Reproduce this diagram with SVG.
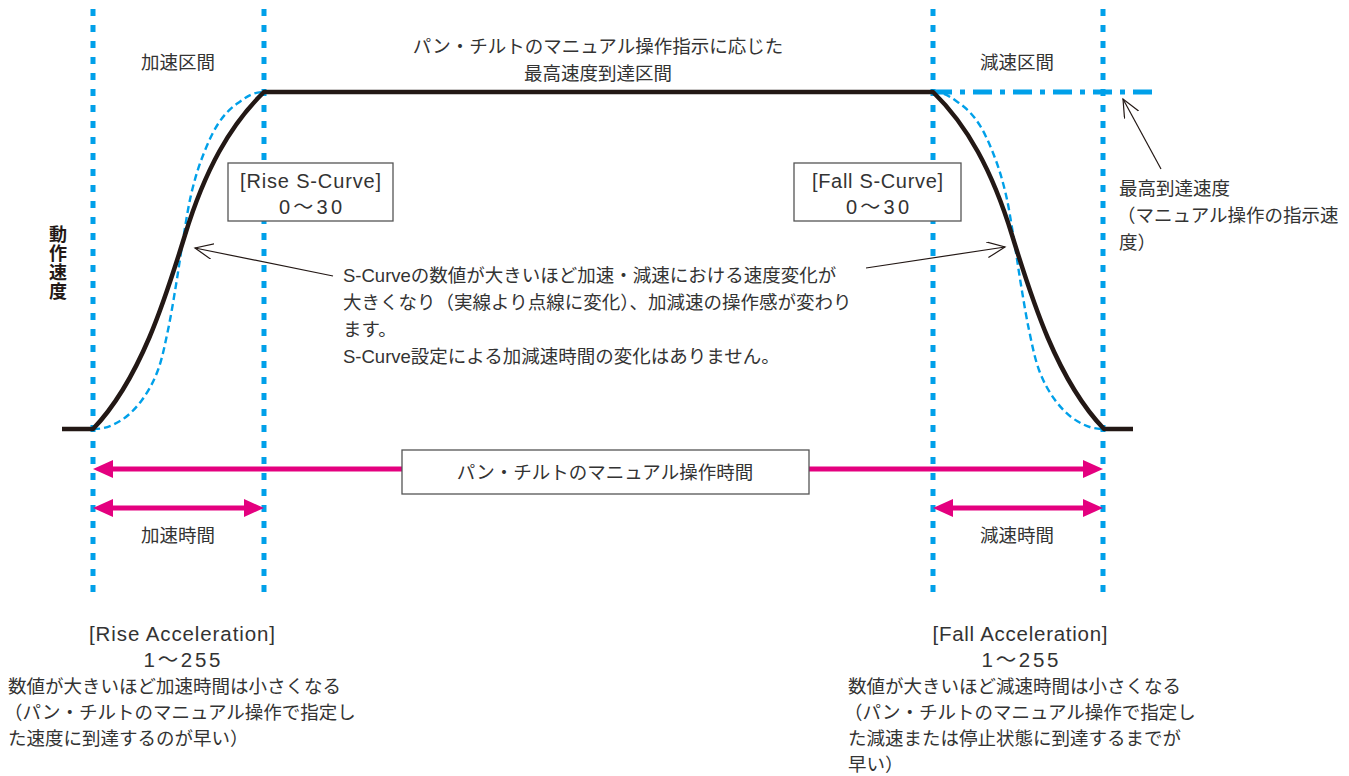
<svg xmlns="http://www.w3.org/2000/svg" width="1349" height="776" viewBox="0 0 1349 776">
<defs>
<style>
text{font-family:"Liberation Sans","Noto Sans CJK JP",sans-serif;font-size:18.5px;fill:#333}
.mid{text-anchor:middle}
.lat{font-size:20px}
.latb{font-size:20.5px}
.vdot{stroke:#00a0e9;stroke-width:5;stroke-dasharray:7 9;fill:none}
.solid{stroke:#231815;stroke-width:4.5;fill:none;stroke-linejoin:round}
.sdash{stroke:#00a0e9;stroke-width:2.4;stroke-dasharray:7 4;fill:none}
.dashdot{stroke:#00a0e9;stroke-width:5;stroke-dasharray:19 8 5 8;fill:none}
.pink{stroke:#e4007f;stroke-width:5;fill:none}
.thin{stroke:#231815;stroke-width:1.2;fill:none}
.box{fill:#fff;stroke:#555;stroke-width:1.3}
.axis{font-weight:bold;font-size:18px;fill:#231815}
</style>
<marker id="pinkHead" markerUnits="userSpaceOnUse" markerWidth="22" markerHeight="20" refX="10" refY="9" orient="auto-start-reverse" viewBox="0 0 22 20">
<path d="M0,0 L20,9 L0,18 Z" fill="#e4007f"/>
</marker>
<marker id="openHead" markerUnits="userSpaceOnUse" markerWidth="20" markerHeight="18" refX="18" refY="8" orient="auto" viewBox="0 0 20 18">
<path d="M0,0 L18,8 L0,16" fill="none" stroke="#231815" stroke-width="1.2"/>
</marker>
</defs>
<rect width="1349" height="776" fill="#fff"/>

<g id="guides">
<line class="vdot" x1="93" y1="9" x2="93" y2="593"/>
<line class="vdot" x1="264" y1="9" x2="264" y2="593"/>
<line class="vdot" x1="933" y1="9" x2="933" y2="593"/>
<line class="vdot" x1="1103" y1="9" x2="1103" y2="593"/>
</g>

<g id="max-speed-line">
<line class="dashdot" x1="933" y1="92" x2="1152" y2="92"/>
</g>

<g id="s-curve-dashed">
<path class="sdash" d="M93,429 C105,429 111.8,425.8 120,421 C128.2,416.2 135.7,408.5 142,400 C148.3,391.5 153.7,381.7 158,370 C162.3,358.3 165,344.2 168,330 C171,315.8 173.5,300 176,285 C178.5,270 180.5,255 183,240 C185.5,225 187.8,208.7 191,195 C194.2,181.3 197.5,169.8 202,158 C206.5,146.2 212,133.2 218,124 C224,114.8 230.3,108.3 238,103 C245.7,97.7 252,92 264,92"/>
<path class="sdash" d="M933,92 C945,92 951.3,97.7 959,103 C966.7,108.3 973,114.8 979,124 C985,133.2 990.5,146.2 995,158 C999.5,169.8 1002.8,181.3 1006,195 C1009.2,208.7 1011.5,225 1014,240 C1016.5,255 1018.5,270 1021,285 C1023.5,300 1026,315.8 1029,330 C1032,344.2 1034.7,358.3 1039,370 C1043.3,381.7 1048.7,391.5 1055,400 C1061.3,408.5 1068.8,416.2 1077,421 C1085.2,425.8 1092,429 1104,429"/>
</g>

<g id="speed-profile">
<path class="solid" d="M62,429 L93,429 C140,380 165,300 185,235 C205,170 230,125 264,92 L933,92 C967,125 992,170 1012,235 C1032,300 1057,380 1104,429 L1133,429"/>
</g>

<g id="connectors">
<line class="thin" x1="333" y1="276" x2="195" y2="248" marker-end="url(#openHead)"/>
<line class="thin" x1="866" y1="268" x2="1005" y2="247" marker-end="url(#openHead)"/>
<line class="thin" x1="1161" y1="169" x2="1123" y2="99" marker-end="url(#openHead)"/>
<line class="pink" x1="103" y1="469" x2="402" y2="469" marker-start="url(#pinkHead)"/>
<line class="pink" x1="809" y1="469" x2="1093" y2="469" marker-end="url(#pinkHead)"/>
<line class="pink" x1="103" y1="508" x2="254" y2="508" marker-start="url(#pinkHead)" marker-end="url(#pinkHead)"/>
<line class="pink" x1="943" y1="508" x2="1093" y2="508" marker-start="url(#pinkHead)" marker-end="url(#pinkHead)"/>
</g>

<g id="label-accel-zone">
<text class="mid" x="178" y="69">加速区間</text>
</g>
<g id="label-decel-zone">
<text class="mid" x="1017" y="69">減速区間</text>
</g>
<g id="label-top">
<text class="mid" x="598" y="53">パン・チルトのマニュアル操作指示に応じた</text>
<text class="mid" x="598" y="80">最高速度到達区間</text>
</g>
<g id="label-axis">
<text class="mid axis" x="58" y="241">動</text>
<text class="mid axis" x="58" y="260">作</text>
<text class="mid axis" x="58" y="279">速</text>
<text class="mid axis" x="58" y="298">度</text>
</g>

<g id="rise-s-curve">
<rect class="box" x="228" y="163" width="165" height="58"/>
<text class="mid lat" x="310.5" y="188" textLength="141" lengthAdjust="spacing">[Rise S-Curve]</text>
<text class="mid lat" x="310.5" y="214" textLength="63" lengthAdjust="spacing">0〜30</text>
</g>
<g id="fall-s-curve">
<rect class="box" x="794" y="163" width="167" height="58"/>
<text class="mid lat" x="877.5" y="188" textLength="131" lengthAdjust="spacing">[Fall S-Curve]</text>
<text class="mid lat" x="877.5" y="214" textLength="63" lengthAdjust="spacing">0〜30</text>
</g>

<g id="note">
<text x="343" y="282">S-Curveの数値が大きいほど加速・減速における速度変化が</text>
<text x="343" y="309">大きくなり（実線より点線に変化）、加減速の操作感が変わり</text>
<text x="343" y="336">ます。</text>
<text x="343" y="363">S-Curve設定による加減速時間の変化はありません。</text>
</g>

<g id="max-speed-label">
<text x="1119" y="195">最高到達速度</text>
<text x="1117" y="222">（マニュアル操作の指示速</text>
<text x="1119" y="249">度）</text>
</g>

<g id="manual-time">
<rect class="box" x="402" y="450" width="407" height="44"/>
<text class="mid" x="605" y="479">パン・チルトのマニュアル操作時間</text>
</g>
<g id="accel-time">
<text class="mid" x="178" y="542">加速時間</text>
</g>
<g id="decel-time">
<text class="mid" x="1017" y="542">減速時間</text>
</g>

<g id="rise-acceleration">
<text class="mid latb" x="182" y="641" textLength="186" lengthAdjust="spacing">[Rise Acceleration]</text>
<text class="mid latb" x="182" y="667" textLength="77" lengthAdjust="spacing">1〜255</text>
<text x="8" y="693">数値が大きいほど加速時間は小さくなる</text>
<text x="4" y="719">（パン・チルトのマニュアル操作で指定し</text>
<text x="8" y="745">た速度に到達するのが早い）</text>
</g>
<g id="fall-acceleration">
<text class="mid latb" x="1020" y="641" textLength="175" lengthAdjust="spacing">[Fall Acceleration]</text>
<text class="mid latb" x="1020" y="667" textLength="77" lengthAdjust="spacing">1〜255</text>
<text x="848" y="693">数値が大きいほど減速時間は小さくなる</text>
<text x="844" y="719">（パン・チルトのマニュアル操作で指定し</text>
<text x="848" y="745">た減速または停止状態に到達するまでが</text>
<text x="848" y="771">早い）</text>
</g>
</svg>
